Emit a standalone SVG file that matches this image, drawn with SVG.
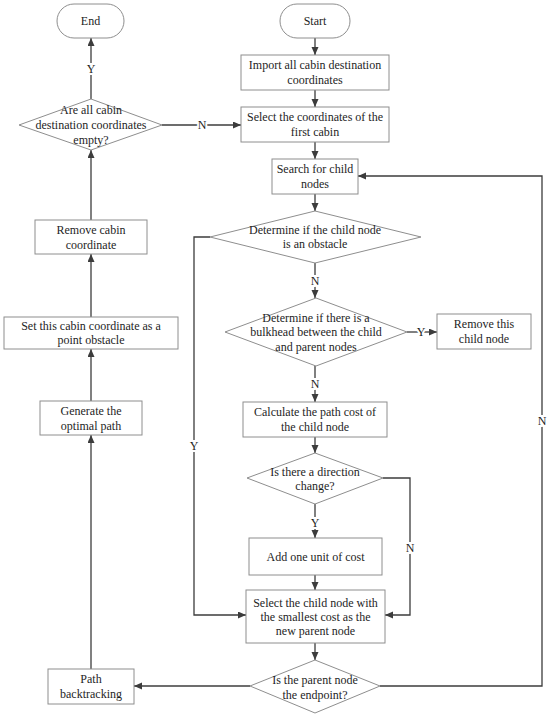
<svg xmlns="http://www.w3.org/2000/svg" width="550" height="717" viewBox="0 0 550 717">
<style>
.shape{fill:#fff;stroke:#8e8e8e;stroke-width:1}
.t{font-family:"Liberation Serif","Times New Roman",serif;font-size:12px;fill:#1e1e1e;text-anchor:middle}
.conn path{fill:none;stroke:#3c3c3c;stroke-width:1.3}
.lbl{font-family:"Liberation Serif","Times New Roman",serif;font-size:12px;fill:#1e1e1e;text-anchor:middle;stroke:#fff;stroke-width:4;paint-order:stroke}
</style>
<defs>
<marker id="arr" markerUnits="userSpaceOnUse" markerWidth="9" markerHeight="8" refX="8" refY="3.5" orient="auto">
<path d="M0,0 L8,3.5 L0,7 z" fill="#3c3c3c"/>
</marker>
</defs>
<rect width="550" height="717" fill="#fff"/>
<g class="conn">
<path d="M315 38 V55" marker-end="url(#arr)"/>
<path d="M315 90 V107" marker-end="url(#arr)"/>
<path d="M315 142 V159" marker-end="url(#arr)"/>
<path d="M315 194 V211" marker-end="url(#arr)"/>
<path d="M315 263 V298" marker-end="url(#arr)"/>
<path d="M407 332 H437" marker-end="url(#arr)"/>
<path d="M315 366 V402" marker-end="url(#arr)"/>
<path d="M315 437 V453" marker-end="url(#arr)"/>
<path d="M315 504 V538" marker-end="url(#arr)"/>
<path d="M315 575 V590" marker-end="url(#arr)"/>
<path d="M315 643 V660" marker-end="url(#arr)"/>
<path d="M210 237 H194 V615 H246" marker-end="url(#arr)"/>
<path d="M383 478 H410 V615 H385" marker-end="url(#arr)"/>
<path d="M380 686 H542 V176 H358" marker-end="url(#arr)"/>
<path d="M250 686 H134" marker-end="url(#arr)"/>
<path d="M91 669 V435" marker-end="url(#arr)"/>
<path d="M91 401 V349" marker-end="url(#arr)"/>
<path d="M91 317 V254" marker-end="url(#arr)"/>
<path d="M91 220 V150" marker-end="url(#arr)"/>
<path d="M91 99 V38" marker-end="url(#arr)"/>
<path d="M162 125 H241" marker-end="url(#arr)"/>
<text class="lbl" x="91" y="73">Y</text>
<text class="lbl" x="202" y="129">N</text>
<text class="lbl" x="315" y="285">N</text>
<text class="lbl" x="421" y="336">Y</text>
<text class="lbl" x="315" y="388">N</text>
<text class="lbl" x="315" y="527">Y</text>
<text class="lbl" x="194" y="450">Y</text>
<text class="lbl" x="410" y="552">N</text>
<text class="lbl" x="542" y="425">N</text>
</g>
<g id="end">
<rect class="shape" x="57" y="4" width="67" height="34" rx="17"/>
<text class="t" x="90.5" y="25">End</text>
</g>
<g id="start">
<rect class="shape" x="280" y="4" width="70" height="34" rx="17"/>
<text class="t" x="315" y="25">Start</text>
</g>
<g id="import">
<rect class="shape" x="241" y="55" width="148" height="35"/>
<text class="t" x="315" y="69">Import all cabin destination</text>
<text class="t" x="315" y="84">coordinates</text>
</g>
<g id="selectfirst">
<rect class="shape" x="241" y="107" width="148" height="35"/>
<text class="t" x="315" y="121">Select the coordinates of the</text>
<text class="t" x="315" y="136">first cabin</text>
</g>
<g id="search">
<rect class="shape" x="272" y="159" width="86" height="35"/>
<text class="t" x="315" y="173">Search for child</text>
<text class="t" x="315" y="188">nodes</text>
</g>
<g id="obstacle">
<polygon class="shape" points="315,211 421,237 315,263 210,237"/>
<text class="t" x="315" y="234">Determine if the child node</text>
<text class="t" x="315" y="248">is an obstacle</text>
</g>
<g id="bulkhead">
<polygon class="shape" points="316,298 407,332 316,366 225,332"/>
<text class="t" x="316" y="322">Determine if there is a</text>
<text class="t" x="316" y="336">bulkhead between the child</text>
<text class="t" x="316" y="351">and parent nodes</text>
</g>
<g id="removechild">
<rect class="shape" x="437" y="314" width="94" height="35"/>
<text class="t" x="484" y="328">Remove this</text>
<text class="t" x="484" y="343">child node</text>
</g>
<g id="calc">
<rect class="shape" x="243" y="402" width="144" height="35"/>
<text class="t" x="315" y="416">Calculate the path cost of</text>
<text class="t" x="315" y="431">the child node</text>
</g>
<g id="direction">
<polygon class="shape" points="315,453 383,478 315,504 247,478"/>
<text class="t" x="315" y="476">Is there a direction</text>
<text class="t" x="315" y="490">change?</text>
</g>
<g id="addcost">
<rect class="shape" x="249" y="538" width="133" height="37"/>
<text class="t" x="315.5" y="561">Add one unit of cost</text>
</g>
<g id="selectchild">
<rect class="shape" x="246" y="590" width="139" height="53"/>
<text class="t" x="315.5" y="607">Select the child node with</text>
<text class="t" x="315.5" y="621">the smallest cost as the</text>
<text class="t" x="315.5" y="635">new parent node</text>
</g>
<g id="endpoint">
<polygon class="shape" points="315,660 380,686 315,713 250,686"/>
<text class="t" x="315" y="684">Is the parent node</text>
<text class="t" x="315" y="699">the endpoint?</text>
</g>
<g id="backtrack">
<rect class="shape" x="48" y="669" width="86" height="35"/>
<text class="t" x="91" y="683">Path</text>
<text class="t" x="91" y="698">backtracking</text>
</g>
<g id="generate">
<rect class="shape" x="40" y="401" width="102" height="34"/>
<text class="t" x="91" y="415">Generate the</text>
<text class="t" x="91" y="430">optimal path</text>
</g>
<g id="setobstacle">
<rect class="shape" x="4" y="317" width="174" height="32"/>
<text class="t" x="91" y="330">Set this cabin coordinate as a</text>
<text class="t" x="91" y="344">point obstacle</text>
</g>
<g id="removecabin">
<rect class="shape" x="35" y="220" width="112" height="34"/>
<text class="t" x="91" y="234">Remove cabin</text>
<text class="t" x="91" y="249">coordinate</text>
</g>
<g id="allempty">
<polygon class="shape" points="91,99 162,125 91,150 19,125"/>
<text class="t" x="91" y="114">Are all cabin</text>
<text class="t" x="91" y="129">destination coordinates</text>
<text class="t" x="91" y="144">empty?</text>
</g>
</svg>
